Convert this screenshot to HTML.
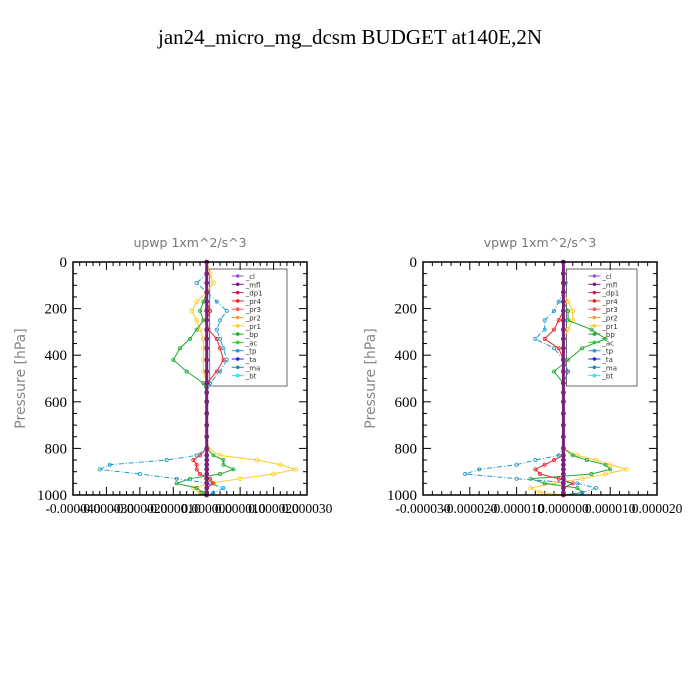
<!DOCTYPE html>
<html><head><meta charset="utf-8"><style>
body{margin:0;background:#fff}
svg{display:block}
</style></head><body>
<svg id="c" width="700" height="700" xmlns="http://www.w3.org/2000/svg">
<text x="350" y="44" text-anchor="middle" font-family="Liberation Serif, serif" font-size="21">jan24_micro_mg_dcsm  BUDGET at140E,2N</text>
</svg>
<script>
// pressure levels (hPa)
const levels=[0,50,90,130,170,210,250,290,330,370,420,470,520,560,600,650,700,750,800,830,850,870,890,910,930,950,970,990,1000];
const yTicks=[0,200,400,600,800,1000];
const seriesNames=["_cl","_mfl","_dp1","_pr4","_pr3","_pr2","_pr1","_bp","_ac","_tp","_ta","_ma","_bt"];
// left panel (units 1e-5)
const upTp=[0,0,-0.3,0,0.3,0.6,0.4,0.3,0.4,0.5,0.6,0.4,0.1,0,0,0,0,0,0,-0.3,-1.2,-2.9,-3.2,-2.0,-0.9,0.1,0.5,0.2,0];
const upPr1=[0,0.1,0.2,0,-0.3,-0.45,-0.3,-0.2,-0.1,-0.1,-0.1,-0.1,0,0,0,0,0,0,0.05,0.4,1.5,2.2,2.65,2.0,1.0,0.1,-0.4,-0.2,0];
const upBp=[0,0,0,0,-0.1,-0.2,-0.1,-0.3,-0.5,-0.8,-1.0,-0.6,-0.1,0,0,0,0,0,0,0.2,0.5,0.5,0.8,0.4,-0.5,-0.9,-0.3,-0.1,0];
const upPr4=[0,0,0,0,0,0.1,0,0.05,0.3,0.4,0.5,0.3,0,0,0,0,0,0,0,-0.2,-0.4,-0.3,-0.3,-0.2,0.1,0.2,0,0,0];
const upXTicks=["-0.000040","-0.000030","-0.000020","-0.000010","0.000000","0.000010","0.000020","0.000030"];
// right panel (units 1e-5)
const vpTp=[0,0,0.05,0,-0.1,-0.2,-0.4,-0.4,-0.6,-0.2,0,0.1,0,0,0,0,0,0,0,-0.1,-0.6,-1.0,-1.8,-2.1,-1.0,0.3,0.7,0.4,0];
const vpPr1=[0,0,0,0,0.1,0.2,0.2,0.1,0,0,0,0,0,0,0,0,0,0,0,0.3,0.7,1.0,1.35,0.9,0.4,-0.2,-0.7,-0.5,0];
const vpBp=[0,0,0,0,0,0.1,0.1,0.6,0.9,0.4,0.1,-0.2,0,0,0,0,0,0,0,0.2,0.5,0.9,1.0,0.6,-0.7,-0.4,0.3,0.4,0];
const vpPr4=[0,0,0,0,0,0,-0.1,-0.2,-0.4,-0.1,0,0.1,0,0,0,0,0,0,0,0,-0.2,-0.4,-0.6,-0.5,-0.1,0.2,0,0,0];
const vpXTicks=["-0.000030","-0.000020","-0.000010","0.000000","0.000010","0.000020"];

const NS="http://www.w3.org/2000/svg";
const svg=document.getElementById('c');
function mk(t,a,p){const e=document.createElementNS(NS,t);for(const k in a)e.setAttribute(k,a[k]);(p||svg).appendChild(e);return e;}
const colors={"_cl":"#9955cc","_mfl":"#7a1f7a","_dp1":"#cc2255","_pr4":"#ee2222","_pr3":"#ff5555","_pr2":"#ff9933","_pr1":"#ffcc22","_bp":"#22aa33","_ac":"#22dd22","_tp":"#2299cc","_ta":"#2222ee","_ma":"#2288aa","_bt":"#22eeee"};

function panel(name,x0,title,xmin,xmax,ticks,series){
  const x1=x0+234,y0=262,y1=495;
  const g=mk('g',{});
  
  
  const sx=v=>x0+(v-xmin)/(xmax-xmin)*(x1-x0);
  const sy=p=>y0+p/1000*(y1-y0);
  const t=mk('text',{x:(x0+x1)/2,y:247,'text-anchor':'middle','font-family':'DejaVu Sans, sans-serif','font-size':12.5,fill:'#777'},g);
  t.textContent=title;
  
  
  const yl=mk('text',{x:0,y:0,transform:`translate(${x0-48},${(y0+y1)/2}) rotate(-90)`,'text-anchor':'middle','font-family':'DejaVu Sans, sans-serif','font-size':14,fill:'#888'},g);
  yl.textContent='Pressure [hPa]';
  
  
  for(let p=0;p<=1000;p+=50){const L=p%200===0?8:4;const y=sy(p);
    mk('line',{x1:x0,y1:y,x2:x0+L,y2:y,stroke:'#000'},g);mk('line',{x1:x1,y1:y,x2:x1-L,y2:y,stroke:'#000'},g);}
  yTicks.forEach(p=>{const tt=mk('text',{x:x0-6,y:sy(p)+5,'text-anchor':'end','font-family':'Liberation Serif, serif','font-size':15},g);tt.textContent=p;
    
    });
  const n=ticks.length-1;
  for(let i=0;i<=n*5;i++){const x=x0+i/(n*5)*(x1-x0);const L=i%5===0?8:4;
    mk('line',{x1:x,y1:y1,x2:x,y2:y1-L,stroke:'#000'},g);mk('line',{x1:x,y1:y0,x2:x,y2:y0+L,stroke:'#000'},g);}
  ticks.forEach((s,i)=>{const tt=mk('text',{x:x0+i/n*(x1-x0),y:513,'text-anchor':'middle','font-family':'Liberation Serif, serif','font-size':13.5},g);tt.textContent=s;
    
    });
  // legend (transparent, drawn before data)
  const lx=sx(0)+3;
  const lg=mk('g',{},g);
  
  
  mk('rect',{x:lx,y:269,width:x1-20-lx,height:117,fill:'none',stroke:'#444','stroke-width':0.8},lg);
  seriesNames.forEach((k,i)=>{const y=276+i*8.3;
    mk('line',{x1:lx+22,y1:y,x2:lx+34,y2:y,stroke:colors[k]},lg);
    mk('circle',{cx:lx+28,cy:y,r:1.8,fill:colors[k]},lg);
    const tt=mk('text',{x:lx+36,y:y+3,'font-family':'DejaVu Sans, sans-serif','font-size':7,fill:'#333'},lg);tt.textContent=k;
    
    });
  series.forEach(s=>{
    const pts=levels.map((p,i)=>sx(s.vals[i]*1e-5)+','+sy(p)).join(' ');
    const l=mk('polyline',{points:pts,fill:'none',stroke:colors[s.key],'stroke-width':s.w||1,'stroke-dasharray':s.dash||''},g);
    
    
    levels.forEach((p,i)=>{mk('circle',{cx:sx(s.vals[i]*1e-5),cy:sy(p),r:s.r||1.6,fill:'none',stroke:colors[s.key],'stroke-width':0.8},g);});
  });
  ["_cl","_mfl"].forEach(k=>{
    const pts=levels.map(p=>sx(0)+','+sy(p)).join(' ');
    const l=mk('polyline',{points:pts,fill:'none',stroke:colors[k],'stroke-width':k==="_mfl"?3:1.5},g);
    
    
    levels.forEach(p=>mk('circle',{cx:sx(0),cy:sy(p),r:2.3,fill:colors["_mfl"]},g));
  });
  mk('rect',{x:x0,y:y0,width:x1-x0,height:y1-y0,fill:'none',stroke:'#000','stroke-width':1.5},g);
}
panel('upwp',73,'upwp   1xm^2/s^3',-0.00004,0.00003,upXTicks,[
  {key:"_pr1",vals:upPr1,r:2},{key:"_bp",vals:upBp},{key:"_pr4",vals:upPr4},{key:"_tp",vals:upTp,dash:'5,2,1,2'}]);
panel('vpwp',423,'vpwp   1xm^2/s^3',-0.00003,0.00002,vpXTicks,[
  {key:"_pr1",vals:vpPr1,r:2},{key:"_bp",vals:vpBp},{key:"_pr4",vals:vpPr4},{key:"_tp",vals:vpTp,dash:'5,2,1,2'}]);
</script>
</body></html>
